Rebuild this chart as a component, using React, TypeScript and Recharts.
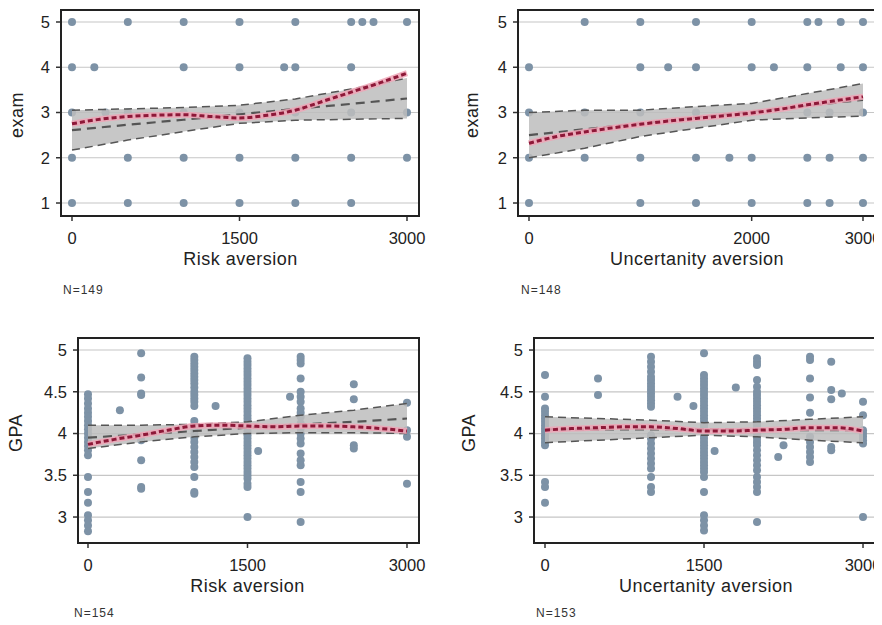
import React from 'react';
import { ComposedChart, Scatter, Line, Area, XAxis, YAxis, CartesianGrid, ReferenceArea } from 'recharts';

const FONT = '"Liberation Sans", Arial, sans-serif';

// shared x grids for the fitted lines
const fitX = [0, 500, 1000, 1500, 2000, 2500, 3000];
const smoothX = [0, 250, 500, 750, 1000, 1250, 1500, 1750, 2000, 2250, 2500, 2750, 3000];

// exam vs risk aversion (N=149): [exam level, x positions]
const examRiskPoints: [number, number[]][] = [
  [5, [0, 500, 1000, 1500, 2000, 2500, 2600, 2700, 3000]],
  [4, [0, 200, 1000, 1500, 1900, 2000, 2500]],
  [3, [0, 300, 500, 1000, 1500, 2000, 2500, 3000]],
  [2, [0, 500, 1000, 1500, 2000, 2500, 3000]],
  [1, [0, 500, 1000, 1500, 2000, 2500]],
];
const examRiskFit = [2.61, 2.73, 2.84, 2.96, 3.08, 3.19, 3.31];
const examRiskHi = [3.05, 3.08, 3.11, 3.16, 3.3, 3.52, 3.76];
const examRiskLo = [2.17, 2.39, 2.58, 2.76, 2.83, 2.85, 2.87];
const examRiskSmooth = [2.75, 2.85, 2.91, 2.94, 2.95, 2.91, 2.88, 2.94, 3.05, 3.25, 3.45, 3.65, 3.87];

// exam vs uncertainty aversion (N=148)
const examUncPoints: [number, number[]][] = [
  [5, [500, 1000, 1500, 2000, 2500, 2600, 2800, 3000]],
  [4, [0, 1000, 1250, 1500, 2000, 2200, 2500, 2800, 3000]],
  [3, [0, 500, 1000, 1500, 2500, 2700, 3000]],
  [2, [0, 500, 1000, 1500, 1800, 2000, 2500, 2700, 3000]],
  [1, [0, 1000, 1500, 2000, 2500, 2700, 3000]],
];
const examUncFit = [2.5, 2.63, 2.76, 2.89, 3.02, 3.15, 3.28];
const examUncHi = [3.0, 3.05, 3.05, 3.13, 3.2, 3.42, 3.64];
const examUncLo = [2.0, 2.21, 2.47, 2.65, 2.83, 2.88, 2.92];
const examUncSmooth = [2.32, 2.47, 2.57, 2.66, 2.74, 2.81, 2.87, 2.93, 2.99, 3.07, 3.17, 3.26, 3.35];

// GPA vs risk aversion (N=154): [x position, GPA values]
const gpaRiskPoints: [number, number[]][] = [
  [0, [4.47, 4.42, 4.36, 4.3, 4.25, 4.2, 4.15, 4.1, 4.05, 4.0, 3.95, 3.9, 3.85, 3.8, 3.74, 3.48, 3.3, 3.17, 3.02, 2.96, 2.9, 2.83]],
  [300, [4.28]],
  [500, [4.96, 4.67, 4.48, 4.46, 3.92, 3.68, 3.36, 3.34]],
  [1000, [4.92, 4.88, 4.84, 4.8, 4.76, 4.72, 4.68, 4.64, 4.6, 4.55, 4.5, 4.46, 4.42, 4.38, 4.33, 4.15, 4.1, 4.05, 4.0, 3.95, 3.9, 3.84, 3.78, 3.72, 3.66, 3.6, 3.48, 3.3, 3.28]],
  [1200, [4.33]],
  [1500, [4.9, 4.86, 4.82, 4.78, 4.74, 4.7, 4.66, 4.62, 4.58, 4.54, 4.5, 4.46, 4.42, 4.38, 4.34, 4.3, 4.26, 4.22, 4.18, 4.14, 4.1, 4.06, 4.02, 3.98, 3.94, 3.9, 3.86, 3.82, 3.78, 3.74, 3.7, 3.66, 3.62, 3.58, 3.54, 3.5, 3.46, 3.4, 3.36, 3.0]],
  [1600, [3.79]],
  [1900, [4.44]],
  [2000, [4.92, 4.88, 4.84, 4.66, 4.5, 4.44, 4.38, 4.3, 4.25, 4.2, 4.12, 4.06, 4.0, 3.94, 3.88, 3.76, 3.68, 3.62, 3.42, 3.3, 2.94]],
  [2500, [4.59, 4.41, 3.86, 3.82]],
  [3000, [4.37, 4.04, 3.96, 3.4]],
];
const gpaRiskFit = [3.95, 3.99, 4.03, 4.07, 4.11, 4.14, 4.18];
const gpaRiskHi = [4.1, 4.1, 4.11, 4.14, 4.22, 4.28, 4.36];
const gpaRiskLo = [3.82, 3.9, 3.96, 4.0, 4.01, 4.01, 4.0];
const gpaRiskSmooth = [3.87, 3.93, 3.98, 4.04, 4.09, 4.1, 4.09, 4.08, 4.09, 4.09, 4.08, 4.06, 4.03];

// GPA vs uncertainty aversion (N=153)
const gpaUncPoints: [number, number[]][] = [
  [0, [4.7, 4.44, 4.3, 4.26, 4.22, 4.18, 4.14, 4.1, 4.06, 4.02, 3.98, 3.94, 3.9, 3.86, 3.42, 3.36, 3.17]],
  [500, [4.66, 4.46]],
  [1000, [4.92, 4.86, 4.8, 4.74, 4.68, 4.64, 4.6, 4.56, 4.52, 4.48, 4.44, 4.4, 4.36, 4.32, 3.98, 3.94, 3.88, 3.82, 3.76, 3.7, 3.64, 3.58, 3.48, 3.36, 3.3]],
  [1250, [4.44]],
  [1400, [4.33]],
  [1500, [4.96, 4.7, 4.66, 4.62, 4.58, 4.54, 4.5, 4.46, 4.42, 4.38, 4.34, 4.3, 4.26, 4.22, 4.18, 4.14, 4.1, 4.06, 4.02, 3.98, 3.94, 3.9, 3.86, 3.82, 3.78, 3.74, 3.7, 3.66, 3.62, 3.58, 3.54, 3.48, 3.3, 3.02, 2.96, 2.9, 2.84]],
  [1600, [3.79]],
  [1800, [4.55]],
  [2000, [4.9, 4.86, 4.82, 4.64, 4.56, 4.5, 4.46, 4.42, 4.38, 4.34, 4.3, 4.26, 4.22, 4.18, 4.14, 4.1, 4.06, 4.02, 3.98, 3.94, 3.9, 3.86, 3.8, 3.74, 3.68, 3.62, 3.56, 3.48, 3.42, 3.36, 3.3, 2.94]],
  [2200, [3.72]],
  [2250, [3.86]],
  [2500, [4.92, 4.88, 4.66, 4.43, 4.25, 3.96, 3.9, 3.84, 3.78, 3.72, 3.66]],
  [2700, [4.86, 4.52, 4.41, 3.84, 3.8]],
  [2800, [4.48]],
  [3000, [4.38, 4.22, 4.04, 4.0, 3.96, 3.92, 3.88, 3.0]],
];
const gpaUncFit = [4.05, 4.05, 4.05, 4.05, 4.05, 4.04, 4.04];
const gpaUncHi = [4.2, 4.18, 4.16, 4.13, 4.14, 4.17, 4.2];
const gpaUncLo = [3.89, 3.92, 3.95, 3.98, 3.96, 3.92, 3.89];
const gpaUncSmooth = [4.04, 4.06, 4.07, 4.08, 4.08, 4.06, 4.03, 4.03, 4.04, 4.05, 4.07, 4.07, 4.03];

const byLevel = (rows: [number, number[]][]) => rows.flatMap(([y, xs]) => xs.map((x) => ({ x, y })));
const byColumn = (rows: [number, number[]][]) => rows.flatMap(([x, ys]) => ys.map((y) => ({ x, y })));
const fitRows = (fit: number[], lo: number[], hi: number[]) =>
  fitX.map((x, i) => ({ x, y: fit[i], band: [lo[i], hi[i]] }));
const smoothRows = (s: number[]) => smoothX.map((x, i) => ({ x, y: s[i] }));

const Dot = (p: any) => <circle cx={p.cx} cy={p.cy} r={4} fill="#7d92a6" />;

interface PanelProps {
  frame: { l: number; t: number; r: number; b: number };
  xDomain: [number, number];
  yDomain: [number, number];
  xTicks: number[];
  yTicks: number[];
  points: { x: number; y: number }[];
  fit: { x: number; y: number; band: number[] }[];
  smooth: { x: number; y: number }[];
}

const Panel: React.FC<PanelProps> = ({ frame, xDomain, yDomain, xTicks, yTicks, points, fit, smooth }) => {
  const padL = 70, padT = 10, padR = 10, padB = 50;
  const w = frame.r - frame.l + padL + padR;
  const h = frame.b - frame.t + padT + padB;
  const tickStyle = { fill: '#222', fontSize: 16.5, fontFamily: FONT };
  return (
    <div style={{ position: 'absolute', left: frame.l - padL, top: frame.t - padT }}>
      <ComposedChart width={w} height={h} margin={{ top: padT, right: padR, left: padL - 50, bottom: padB - 40 }}>
        <CartesianGrid vertical={false} stroke="#c6c6c6" strokeWidth={1.2} />
        <XAxis
          type="number"
          dataKey="x"
          domain={xDomain}
          ticks={xTicks}
          interval={0}
          allowDataOverflow
          axisLine={false}
          tickLine={{ stroke: '#333', strokeWidth: 1.5 }}
          tickSize={5}
          tickMargin={11}
          height={40}
          tick={tickStyle}
        />
        <YAxis
          type="number"
          dataKey="y"
          domain={yDomain}
          ticks={yTicks}
          interval={0}
          allowDataOverflow
          axisLine={false}
          tickLine={{ stroke: '#333', strokeWidth: 1.5 }}
          tickSize={5}
          tickMargin={6}
          width={50}
          tick={tickStyle}
        />
        <Scatter data={points} shape={Dot} isAnimationActive={false} zIndex={90} />
        <Area
          data={fit}
          dataKey="band"
          type="linear"
          fill="#bdbdbd"
          fillOpacity={0.85}
          stroke="#555"
          strokeWidth={1.5}
          strokeDasharray="8 5"
          dot={false}
          activeDot={false}
          isAnimationActive={false}
          zIndex={100}
        />
        <Line data={fit} dataKey="y" type="linear" stroke="#555" strokeWidth={2.2} strokeDasharray="9 6" dot={false} activeDot={false} isAnimationActive={false} zIndex={400} />
        <Line data={smooth} dataKey="y" type="monotone" stroke="#eea5b6" strokeOpacity={0.85} strokeWidth={6} dot={false} activeDot={false} isAnimationActive={false} zIndex={410} />
        <Line data={smooth} dataKey="y" type="monotone" stroke="#8e1838" strokeWidth={3} strokeDasharray="5 3" dot={false} activeDot={false} isAnimationActive={false} zIndex={420} />
        <ReferenceArea
          x1={xDomain[0]}
          x2={xDomain[1]}
          y1={yDomain[0]}
          y2={yDomain[1]}
          fill="none"
          fillOpacity={0}
          stroke="#222"
          strokeWidth={2}
          ifOverflow="visible"
          zIndex={700}
        />
      </ComposedChart>
    </div>
  );
};

const XTitle = ({ cx, cy, text }: { cx: number; cy: number; text: string }) => (
  <div style={{ position: 'absolute', left: cx - 150, top: cy - 9, width: 300, textAlign: 'center', fontSize: 18, lineHeight: '18px', letterSpacing: 0.5, color: '#222', whiteSpace: 'nowrap' }}>
    {text}
  </div>
);

const YTitle = ({ cx, cy, text }: { cx: number; cy: number; text: string }) => (
  <div style={{ position: 'absolute', left: cx - 50, top: cy - 9, width: 100, height: 18, textAlign: 'center', fontSize: 18, lineHeight: '18px', letterSpacing: 0.5, color: '#222', transform: 'rotate(-90deg)', whiteSpace: 'nowrap' }}>
    {text}
  </div>
);

const NText = ({ x, cy, text }: { x: number; cy: number; text: string }) => (
  <div style={{ position: 'absolute', left: x, top: cy - 6, fontSize: 12, lineHeight: '12px', letterSpacing: 1, color: '#333', whiteSpace: 'nowrap' }}>
    {text}
  </div>
);

export default function App() {
  const examTicks = [1, 2, 3, 4, 5];
  const gpaTicks = [3, 3.5, 4, 4.5, 5];
  return (
    <div style={{ position: 'relative', width: 882, height: 625, margin: -8, background: '#fff', overflow: 'hidden', fontFamily: FONT }}>
      <Panel
        frame={{ l: 61, t: 10, r: 419, b: 216 }}
        xDomain={[-98.5, 3107.5]}
        yDomain={[0.713, 5.265]}
        xTicks={[0, 1500, 3000]}
        yTicks={examTicks}
        points={byLevel(examRiskPoints)}
        fit={fitRows(examRiskFit, examRiskLo, examRiskHi)}
        smooth={smoothRows(examRiskSmooth)}
      />
      <Panel
        frame={{ l: 518, t: 10, r: 875, b: 216 }}
        xDomain={[-98.8, 3107.8]}
        yDomain={[0.713, 5.265]}
        xTicks={[0, 2000, 3000]}
        yTicks={examTicks}
        points={byLevel(examUncPoints)}
        fit={fitRows(examUncFit, examUncLo, examUncHi)}
        smooth={smoothRows(examUncSmooth)}
      />
      <Panel
        frame={{ l: 78, t: 338, r: 419, b: 543 }}
        xDomain={[-94, 3113]}
        yDomain={[2.689, 5.144]}
        xTicks={[0, 1500, 3000]}
        yTicks={gpaTicks}
        points={byColumn(gpaRiskPoints)}
        fit={fitRows(gpaRiskFit, gpaRiskLo, gpaRiskHi)}
        smooth={smoothRows(gpaRiskSmooth)}
      />
      <Panel
        frame={{ l: 534, t: 338, r: 875, b: 543 }}
        xDomain={[-103.8, 3113]}
        yDomain={[2.689, 5.144]}
        xTicks={[0, 1500, 3000]}
        yTicks={gpaTicks}
        points={byColumn(gpaUncPoints)}
        fit={fitRows(gpaUncFit, gpaUncLo, gpaUncHi)}
        smooth={smoothRows(gpaUncSmooth)}
      />

      <YTitle cx={16.5} cy={115} text="exam" />
      <XTitle cx={240.5} cy={259} text="Risk aversion" />
      <NText x={63} cy={289.5} text="N=149" />

      <YTitle cx={472} cy={115} text="exam" />
      <XTitle cx={697} cy={259} text="Uncertanity aversion" />
      <NText x={521} cy={289.5} text="N=148" />

      <YTitle cx={15.8} cy={433} text="GPA" />
      <XTitle cx={247.5} cy={585.7} text="Risk aversion" />
      <NText x={74} cy={613} text="N=154" />

      <YTitle cx={468.5} cy={433} text="GPA" />
      <XTitle cx={706} cy={586} text="Uncertanity aversion" />
      <NText x={536} cy={612.5} text="N=153" />
    </div>
  );
}
